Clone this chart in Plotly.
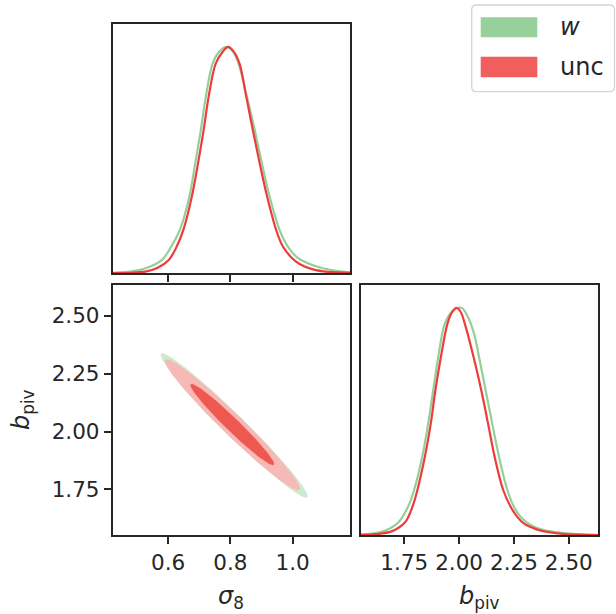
import numpy as np
import plotly.graph_objects as go

# ---- marginal densities (peak-normalised), chain "w" ----
S8_W_X = [0.422, 0.484, 0.530, 0.580, 0.612, 0.639, 0.668, 0.687, 0.705, 0.721, 0.743,
          0.762, 0.786, 0.808, 0.826, 0.853, 0.878, 0.901, 0.926, 0.958, 0.985, 1.015,
          1.054, 1.100, 1.134, 1.184]
S8_W_P = [0.001, 0.007, 0.022, 0.058, 0.122, 0.195, 0.337, 0.485, 0.632, 0.779, 0.927,
          0.975, 1.000, 0.980, 0.927, 0.779, 0.632, 0.485, 0.337, 0.190, 0.116, 0.068,
          0.040, 0.020, 0.011, 0.003]

B_W_X = [1.553, 1.600, 1.655, 1.723, 1.768, 1.795, 1.832, 1.859, 1.882, 1.905, 1.935,
         1.970, 2.010, 2.040, 2.068, 2.091, 2.121, 2.151, 2.182, 2.220, 2.250, 2.280,
         2.318, 2.370, 2.432, 2.523, 2.633]
B_W_P = [0.002, 0.006, 0.016, 0.055, 0.126, 0.198, 0.344, 0.490, 0.637, 0.783, 0.930,
         0.985, 1.000, 0.960, 0.886, 0.783, 0.637, 0.490, 0.344, 0.198, 0.124, 0.080,
         0.049, 0.026, 0.0135, 0.005, 0.001]

# ---- marginal densities (peak-normalised), chain "unc" ----
S8_U_X = [0.422, 0.480, 0.526, 0.565, 0.602, 0.628, 0.650, 0.676, 0.696, 0.714, 0.730,
          0.753, 0.776, 0.793, 0.810, 0.829, 0.851, 0.872, 0.894, 0.918, 0.947, 0.968,
          0.995, 1.022, 1.065, 1.113, 1.184]
S8_U_P = [0.000, 0.001, 0.006, 0.022, 0.058, 0.118, 0.195, 0.337, 0.485, 0.632, 0.779,
          0.927, 0.980, 1.000, 0.980, 0.927, 0.779, 0.632, 0.485, 0.337, 0.190, 0.118,
          0.070, 0.040, 0.016, 0.005, 0.001]

B_U_X = [1.553, 1.620, 1.692, 1.753, 1.788, 1.810, 1.844, 1.871, 1.892, 1.917, 1.947,
         1.968, 1.988, 2.008, 2.026, 2.066, 2.101, 2.132, 2.162, 2.201, 2.235, 2.265,
         2.295, 2.350, 2.401, 2.480, 2.568, 2.633]
B_U_P = [0.001, 0.004, 0.016, 0.055, 0.126, 0.198, 0.344, 0.490, 0.637, 0.783, 0.930,
         0.980, 1.000, 0.980, 0.930, 0.783, 0.637, 0.490, 0.344, 0.198, 0.124, 0.080,
         0.051, 0.026, 0.0135, 0.004, 0.001, 0.000]

# ---- joint (sigma_8, b_piv) summaries: mean, std, correlation ----
W_MEAN = [0.812, 2.026]
W_STD = [0.096, 0.127]
W_RHO = -0.980
U_MEAN = [0.806, 2.030]
U_STD = [0.088, 0.115]
U_RHO = -0.975

# 68% and 95% two-parameter chi-square levels
CHI2_LEVELS = [2.30, 5.99]

S8_TICKS = [0.6, 0.8, 1.0]
S8_LABELS = ["0.6", "0.8", "1.0"]
B_TICKS = [1.75, 2.00, 2.25, 2.50]
B_LABELS = ["1.75", "2.00", "2.25", "2.50"]
S8_RANGE = [0.422, 1.184]
B_RANGE = [1.553, 2.633]

GREEN_LINE = "#94CF98"
RED_LINE = "#EE3B3B"
GREEN_FILL = ["#B9E0BD", "#CDE9CF"]   # inner, outer
RED_FILL = ["#EF5751", "#F6B9B5"]     # inner, outer
INK = "#262626"
FONT = "DejaVu Sans"

W, H = 616, 614


def px(x):
    return x / W


def py(y):
    return 1 - y / H


def ellipse(mean, std, rho, chi2, n=260):
    cov = np.array([[std[0] ** 2, rho * std[0] * std[1]],
                    [rho * std[0] * std[1], std[1] ** 2]])
    L = np.linalg.cholesky(cov)
    t = np.linspace(0, 2 * np.pi, n)
    circ = np.vstack([np.cos(t), np.sin(t)]) * np.sqrt(chi2)
    pts = L @ circ + np.array(mean)[:, None]
    return pts[0], pts[1]


fig = go.Figure()

# sigma_8 marginal (top-left)
for xs, ps, col in [(S8_W_X, S8_W_P, GREEN_LINE), (S8_U_X, S8_U_P, RED_LINE)]:
    fig.add_trace(go.Scatter(x=xs, y=ps, mode="lines", xaxis="x", yaxis="y",
                             line=dict(color=col, width=2.2, shape="spline", smoothing=1.0),
                             showlegend=False, hoverinfo="skip"))

# joint contours (bottom-left): outer then inner, "w" below "unc"
for mean, std, rho, fills in [(W_MEAN, W_STD, W_RHO, GREEN_FILL),
                              (U_MEAN, U_STD, U_RHO, RED_FILL)]:
    for lvl, fc in [(CHI2_LEVELS[1], fills[1]), (CHI2_LEVELS[0], fills[0])]:
        ex, ey = ellipse(mean, std, rho, lvl)
        fig.add_trace(go.Scatter(x=ex, y=ey, mode="lines", fill="toself",
                                 fillcolor=fc, line=dict(color=fc, width=0.6),
                                 xaxis="x2", yaxis="y2", showlegend=False,
                                 hoverinfo="skip"))

# b_piv marginal (bottom-right)
for xs, ps, col in [(B_W_X, B_W_P, GREEN_LINE), (B_U_X, B_U_P, RED_LINE)]:
    fig.add_trace(go.Scatter(x=xs, y=ps, mode="lines", xaxis="x3", yaxis="y3",
                             line=dict(color=col, width=2.2, shape="spline", smoothing=1.0),
                             showlegend=False, hoverinfo="skip"))

tickfont = dict(family=FONT, size=21.5, color=INK)
frame = dict(showline=True, linecolor=INK, linewidth=1.8, mirror=True,
             showgrid=False, zeroline=False)
dom_left = [px(112.7), px(350)]
dom_right = [px(361), px(598)]
dom_top = [py(273), py(24.3)]
dom_bot = [py(535), py(285)]

fig.update_layout(
    width=W, height=H, margin=dict(l=0, r=0, t=0, b=0),
    paper_bgcolor="white", plot_bgcolor="white",
    xaxis=dict(domain=dom_left, anchor="y", range=S8_RANGE, tickvals=S8_TICKS,
               showticklabels=False, ticks="outside", ticklen=7, tickwidth=1.6,
               tickcolor=INK, **frame),
    yaxis=dict(domain=dom_top, anchor="x", range=[0, 1.1], showticklabels=False,
               ticks="", **frame),
    xaxis2=dict(domain=dom_left, anchor="y2", range=S8_RANGE, tickvals=S8_TICKS,
                ticktext=S8_LABELS, ticks="outside", ticklen=7, tickwidth=1.6,
                tickcolor=INK, tickfont=tickfont, **frame),
    yaxis2=dict(domain=dom_bot, anchor="x2", range=B_RANGE, tickvals=B_TICKS,
                ticktext=B_LABELS, ticks="outside", ticklen=7, tickwidth=1.6,
                tickcolor=INK, tickfont=tickfont, **frame),
    xaxis3=dict(domain=dom_right, anchor="y3", range=B_RANGE, tickvals=B_TICKS,
                ticktext=B_LABELS, ticks="outside", ticklen=7, tickwidth=1.6,
                tickcolor=INK, tickfont=tickfont, **frame),
    yaxis3=dict(domain=dom_bot, anchor="x3", range=[0, 1.1], showticklabels=False,
                ticks="", **frame),
)

# axis titles
title_font = dict(family=FONT, size=24, color=INK)
fig.add_annotation(text="<i>σ</i><sub>8</sub>", x=px(231.4), y=py(597),
                   xref="paper", yref="paper", showarrow=False,
                   xanchor="center", yanchor="middle", font=title_font)
fig.add_annotation(text="<i>b</i><sub>piv</sub>", x=px(479.5), y=py(597),
                   xref="paper", yref="paper", showarrow=False,
                   xanchor="center", yanchor="middle", font=title_font)
fig.add_annotation(text="<i>b</i><sub>piv</sub>", x=px(22), y=py(410),
                   xref="paper", yref="paper", showarrow=False, textangle=-90,
                   xanchor="center", yanchor="middle", font=title_font)

# legend box with rounded corners
x0, x1, y0, y1, r = 471.7, 614.5, 5, 91.7, 5
path = (f"M {px(x0 + r)} {py(y0)} L {px(x1 - r)} {py(y0)} "
        f"Q {px(x1)} {py(y0)} {px(x1)} {py(y0 + r)} "
        f"L {px(x1)} {py(y1 - r)} Q {px(x1)} {py(y1)} {px(x1 - r)} {py(y1)} "
        f"L {px(x0 + r)} {py(y1)} Q {px(x0)} {py(y1)} {px(x0)} {py(y1 - r)} "
        f"L {px(x0)} {py(y0 + r)} Q {px(x0)} {py(y0)} {px(x0 + r)} {py(y0)} Z")
fig.add_shape(type="path", path=path, xref="paper", yref="paper",
              line=dict(color="#D4D4D4", width=1.3), fillcolor="rgba(255,255,255,0.85)")

legend_items = [("<i>w</i>", "#98D09C", 17.3, 37.3), ("unc", "#F15E5E", 56.7, 77.3)]
for label, col, ya, yb in legend_items:
    fig.add_shape(type="rect", xref="paper", yref="paper",
                  x0=px(480.7), x1=px(537.3), y0=py(yb), y1=py(ya),
                  fillcolor=col, line=dict(width=0))
    fig.add_annotation(text=label, x=px(558), y=py((ya + yb) / 2), xref="paper",
                       yref="paper", showarrow=False, xanchor="left", yanchor="middle",
                       font=dict(family=FONT, size=24, color=INK))

fig.write_html("out.html")
